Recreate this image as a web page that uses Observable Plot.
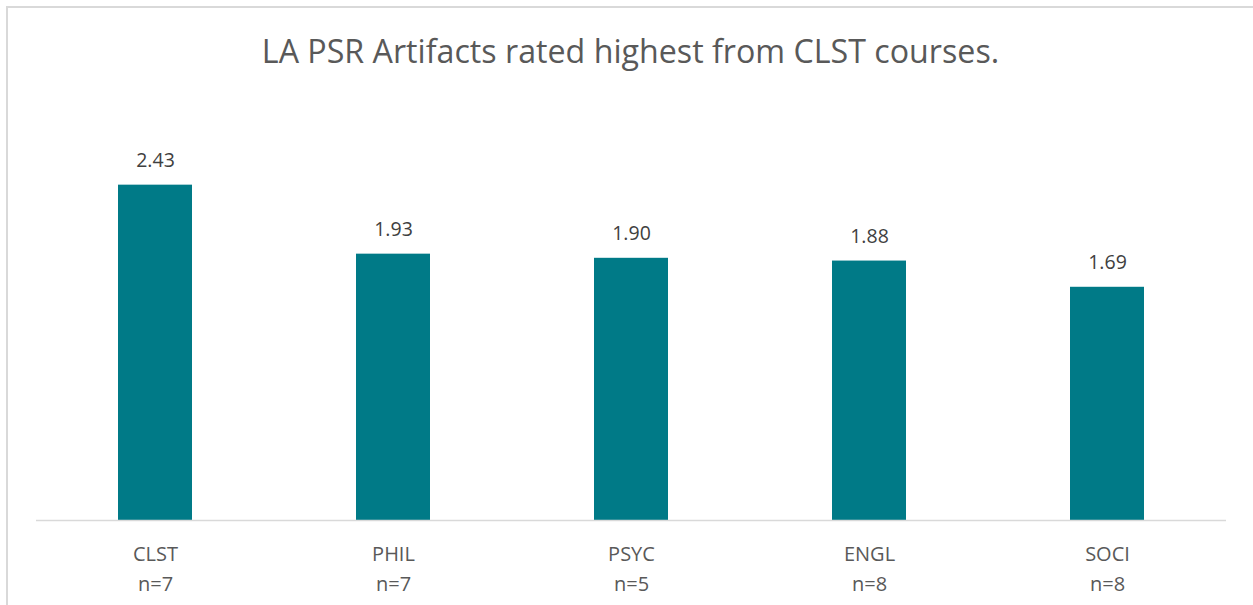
<!DOCTYPE html>
<html>
<head>
<meta charset="utf-8">
<script src="https://cdn.jsdelivr.net/npm/d3@7"></script>
<script src="https://cdn.jsdelivr.net/npm/@observablehq/plot@0.6"></script>
<style>
  html, body { margin: 0; padding: 0; background: #fff; }
  body { width: 1253px; height: 605px; position: relative; overflow: hidden; font-family: "Open Sans", sans-serif; }
  #frame { position: absolute; left: 6px; top: 6px; width: 1300px; height: 700px;
           border-top: 2px solid #d9d9d9; border-left: 2px solid #d9d9d9; pointer-events: none; }
  #title { height: 100px; box-sizing: border-box; padding-top: 35px; text-align: center;
           font-size: 32.2px; line-height: 32px; color: #595959; padding-left: 8px; }
  #chart svg { display: block; }
</style>
</head>
<body>
<div id="frame"></div>
<div id="title">LA PSR Artifacts rated highest from CLST courses.</div>
<div id="chart"></div>
<script>
const courses = ["CLST", "PHIL", "PSYC", "ENGL", "SOCI"];
const counts = ["n=7", "n=7", "n=5", "n=8", "n=8"];
const ratings = [2.43, 1.93, 1.90, 1.88, 1.69];

const data = courses.map((c, i) => ({course: c, n: counts[i], rating: ratings[i]}));

const chart = Plot.plot({
  width: 1253,
  height: 505,
  marginLeft: 36,
  marginRight: 27,
  marginTop: 6,
  marginBottom: 85,
  style: {fontFamily: "'Open Sans', sans-serif", background: "transparent"},
  x: {domain: courses, paddingInner: 0.69, paddingOuter: 0.345, axis: null},
  y: {domain: [0, 3], axis: null},
  marks: [
    Plot.barY(data, {x: "course", y: "rating", fill: "#007A87"}),
    Plot.ruleY([0], {stroke: "#d9d9d9", strokeWidth: 1.5}),
    Plot.text(data, {x: "course", y: "rating", text: d => d.rating.toFixed(2),
      lineAnchor: "bottom", dy: -18, fontSize: 19.5, fill: "#404040"}),
    Plot.text(data, {x: "course", text: d => d.course + "\n" + d.n,
      frameAnchor: "bottom", lineAnchor: "top", dy: 19, lineHeight: 1.5, fontSize: 20, fill: "#595959"})
  ]
});
document.getElementById("chart").appendChild(chart);
</script>
</body>
</html>
